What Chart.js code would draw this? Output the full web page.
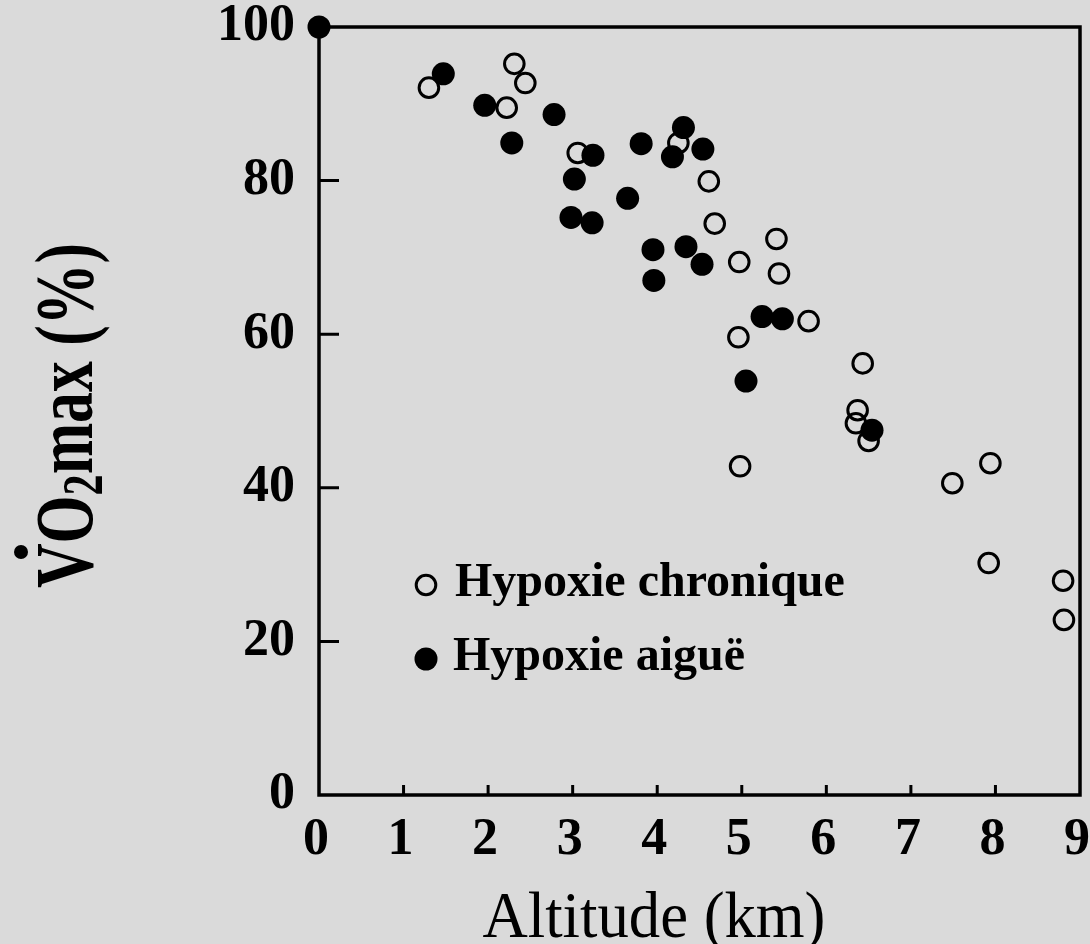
<!DOCTYPE html>
<html lang="fr">
<head>
<meta charset="utf-8">
<title>VO2max et altitude</title>
<script src="https://cdn.jsdelivr.net/npm/chart.js@4.4.1/dist/chart.umd.min.js"></script>
<style>
  body { margin: 0; background: #dadada; }
  #box { width: 1090px; height: 944px; }
</style>
</head>
<body>
<div id="box"><canvas id="grafico"></canvas></div>
<script>
// valeurs
const altitudeChronique = [1.30, 2.22, 2.31, 2.44, 3.06, 4.25, 4.61, 4.68, 4.97, 5.41, 5.44, 5.79, 4.96, 4.98, 6.43, 6.37, 6.35, 6.50, 7.94, 7.49, 7.92, 8.80, 8.81];
const vo2Chronique = [92.1, 89.5, 95.2, 92.7, 83.6, 84.9, 79.9, 74.4, 69.4, 72.4, 67.9, 61.7, 59.6, 42.8, 56.2, 50.1, 48.4, 46.1, 43.2, 40.6, 30.2, 27.9, 22.8];

const altitudeAigue = [0, 1.47, 1.96, 2.28, 2.78, 3.02, 3.24, 2.98, 3.23, 3.65, 3.81, 4.31, 4.18, 4.54, 3.95, 4.34, 4.53, 3.96, 5.24, 5.48, 5.05, 6.54];
const vo2Aigue = [100, 93.9, 89.8, 84.9, 88.6, 80.2, 83.3, 75.2, 74.5, 77.7, 84.8, 86.9, 83.1, 84.1, 71.0, 71.4, 69.1, 67.0, 62.3, 62.0, 53.9, 47.5];

const ticksX = [0, 1, 2, 3, 4, 5, 6, 7, 8, 9];
const ticksY = [0, 20, 40, 60, 80, 100];
const legendes = ['Hypoxie chronique', 'Hypoxie aiguë'];
const titreX = 'Altitude (km)';

const serif = '"Liberation Serif", "Times New Roman", Times, serif';

function points(xs, ys) {
    return xs.map((x, i) => ({ x: x, y: ys[i] }));
}

function rond(ctx, x, y, plein) {
    ctx.beginPath();
    if (plein) {
        ctx.arc(x, y, 11.5, 0, Math.PI * 2);
        ctx.fill();
    } else {
        ctx.arc(x, y, 9.8, 0, Math.PI * 2);
        ctx.stroke();
    }
}

const cadre = {
    id: 'cadre',
    beforeDraw(chart) {
        const ctx = chart.ctx;
        ctx.save();
        ctx.fillStyle = '#dadada';
        ctx.fillRect(0, 0, chart.width, chart.height);
        ctx.restore();
    },
    beforeDatasetsDraw(chart) {
        const { ctx, chartArea: a, scales } = chart;
        ctx.save();
        ctx.strokeStyle = '#000';
        ctx.lineWidth = 3.5;
        ctx.strokeRect(a.left, a.top, a.right - a.left, a.bottom - a.top);
        ctx.lineWidth = 3;
        ctx.beginPath();
        ticksX.slice(1, -1).forEach(v => {
            const px = scales.x.getPixelForValue(v);
            ctx.moveTo(px, a.bottom);
            ctx.lineTo(px, a.bottom - 10);
        });
        ticksY.slice(1, -1).forEach(v => {
            const py = scales.y.getPixelForValue(v);
            ctx.moveTo(a.left, py);
            ctx.lineTo(a.left + 20, py);
        });
        ctx.stroke();
        ctx.restore();
    },
    afterDraw(chart) {
        const ctx = chart.ctx;
        ctx.save();
        ctx.fillStyle = '#000';
        ctx.strokeStyle = '#000';
        ctx.lineWidth = 3;

        // légende
        rond(ctx, 426, 585, false);
        rond(ctx, 426, 659, true);
        ctx.font = 'bold 48px ' + serif;
        ctx.textBaseline = 'alphabetic';
        ctx.textAlign = 'left';
        ctx.fillText(legendes[0], 455, 596);
        ctx.fillText(legendes[1], 453, 670);

        // titre de l'axe x
        ctx.save();
        ctx.font = '66px ' + serif;
        ctx.textAlign = 'center';
        const wx = ctx.measureText(titreX).width;
        ctx.translate(654, 937);
        ctx.scale(343 / wx, 1);
        ctx.fillText(titreX, 0, 0);
        ctx.restore();

        // titre de l'axe y : V point O indice 2 max (%)
        ctx.save();
        ctx.translate(92, 588);
        ctx.rotate(-Math.PI / 2);
        ctx.textAlign = 'left';
        const grand = 'bold 82px ' + serif;
        const petit = 'bold 56px ' + serif;
        ctx.font = grand;
        const wV = ctx.measureText('V').width;
        const wO = ctx.measureText('O').width;
        const wReste = ctx.measureText('max (%)').width;
        ctx.font = petit;
        const w2 = ctx.measureText('2').width;
        const sx = 345 / (wV + wO + w2 + wReste);
        ctx.scale(sx, 1);
        ctx.font = grand;
        ctx.fillText('V', 0, 0);
        ctx.beginPath();
        ctx.ellipse(36 / sx, -71, 7 / sx, 7, 0, 0, Math.PI * 2);
        ctx.fill();
        ctx.fillText('O', wV, 0);
        ctx.font = petit;
        ctx.fillText('2', wV + wO, 10);
        ctx.font = grand;
        ctx.fillText('max (%)', wV + wO + w2, 0);
        ctx.restore();

        ctx.restore();
    }
};

const ctx = document.getElementById('grafico').getContext('2d');
window.myChart = new Chart(ctx, {
    type: 'scatter',
    data: {
        datasets: [{
            label: legendes[1],
            data: points(altitudeAigue, vo2Aigue),
            pointRadius: 11.5,
            pointHoverRadius: 11.5,
            backgroundColor: '#000',
            borderColor: '#000',
            borderWidth: 0,
            clip: false,
            order: 0
        }, {
            label: legendes[0],
            data: points(altitudeChronique, vo2Chronique),
            pointRadius: 9.8,
            pointHoverRadius: 9.8,
            backgroundColor: 'rgba(0,0,0,0)',
            borderColor: '#000',
            borderWidth: 3,
            clip: false,
            order: 1
        }]
    },
    options: {
        responsive: true,
        maintainAspectRatio: false,
        animation: false,
        layout: { autoPadding: false, padding: { top: 27, right: 10, left: 0, bottom: 0 } },
        plugins: {
            legend: { display: false },
            tooltip: { enabled: false }
        },
        scales: {
            x: {
                type: 'linear',
                min: 0,
                max: 9,
                grid: { display: false, drawTicks: false },
                border: { display: false },
                ticks: {
                    stepSize: 1,
                    padding: 14,
                    color: '#000',
                    maxRotation: 0,
                    autoSkip: false,
                    labelOffset: -3,
                    font: { family: serif, size: 52, weight: 'bold' }
                },
                afterFit(s) {
                    s.height = 149;
                    s.paddingLeft = 0;
                    s.paddingRight = 0;
                }
            },
            y: {
                min: 0,
                max: 100,
                grid: { display: false, drawTicks: false },
                border: { display: false },
                ticks: {
                    stepSize: 20,
                    padding: 24,
                    color: '#000',
                    font: { family: serif, size: 52, weight: 'bold' }
                },
                afterFit(s) {
                    s.width = 319;
                    s.paddingTop = 0;
                    s.paddingBottom = 0;
                }
            }
        }
    },
    plugins: [cadre]
});
</script>
</body>
</html>
